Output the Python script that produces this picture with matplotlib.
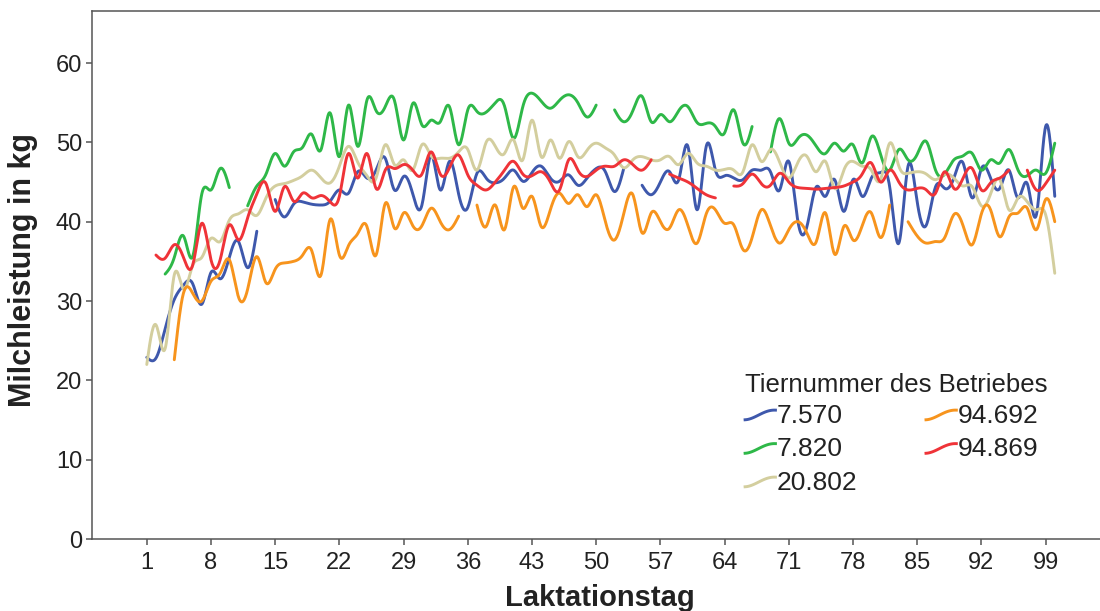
import numpy as np
import matplotlib
matplotlib.use("Agg")
import matplotlib.pyplot as plt
from matplotlib.legend_handler import HandlerBase
from matplotlib.lines import Line2D

nan = np.nan

# Laktationstag 1..100, Milchleistung (kg) per Tier, nan = kein Wert
days = list(range(1, 101))

kuh_7570 = [22.9, 22.8, 26.5, 30.2, 32.0, 32.2, 29.6, 33.6, 32.8, 35.5,
            37.5, 34.2, 38.8, nan, 42.8, 40.6, 42.2, 42.5, 42.2, 42.1,
            42.6, 44.0, 43.6, 46.3, 45.5, 46.5, 48.0, 44.0, 45.7, 43.5,
            42.1, 48.4, 44.0, 47.6, 43.5, 41.8, 46.1, 45.5, 44.9, 45.5,
            46.5, 45.1, 46.2, 47.0, 45.5, 45.1, 45.9, 44.6, 45.5, 46.7,
            46.3, 43.8, 46.7, nan, 44.6, 43.4, 45.0, 46.3, 45.3, 49.5,
            41.5, 49.5, 46.5, 45.8, 45.5, 45.3, 46.5, 46.5, 46.3, 44.0,
            47.6, 40.0, 39.5, 44.4, 43.2, 45.3, 41.3, 45.3, 43.2, 45.5,
            46.2, 44.4, 37.3, 47.0, 42.5, 39.6, 44.4, 44.2, 45.5, 47.4,
            43.0, 46.7, 45.5, 44.2, 46.5, 43.0, 44.8, 40.9, 52.0, 43.2]

kuh_7820 = [nan, nan, 33.4, 35.5, 38.2, 35.6, 43.5, 44.0, 46.7, 44.3,
            nan, 42.0, 44.5, 46.0, 48.6, 47.0, 48.8, 49.4, 51.0, 49.1,
            53.7, 48.2, 54.7, 49.5, 55.3, 54.0, 54.5, 55.3, 50.3, 54.9,
            52.2, 52.8, 52.6, 54.5, 49.7, 54.1, 53.9, 53.8, 55.0, 54.6,
            50.5, 54.5, 56.2, 55.2, 54.3, 55.3, 56.0, 55.0, 53.2, 54.7,
            nan, 54.1, 52.6, 54.0, 55.8, 52.6, 53.5, 52.6, 54.0, 54.5,
            52.5, 52.4, 52.0, 51.2, 54.1, 49.9, 52.0, nan, 48.8, 53.0,
            49.9, 50.5, 50.9, 49.5, 48.6, 49.9, 48.9, 49.7, 47.4, 50.7,
            48.5, 46.5, 49.1, 47.8, 48.5, 50.1, 46.5, 46.0, 47.8, 48.3,
            48.6, 46.5, 47.8, 47.4, 49.1, 46.5, 45.8, 46.5, 46.1, 49.9]

kuh_20802 = [22.0, 27.0, 24.0, 33.3, 31.5, 34.5, 35.5, 37.9, 37.5, 40.2,
             41.0, 41.5, 40.8, 43.0, 44.5, 44.8, 45.2, 45.8, 46.5, 45.5,
             44.9, 47.0, 49.5, 47.5, 45.8, 45.5, 49.7, 47.2, 47.8, 46.5,
             49.7, 48.3, 48.0, 48.0, 48.8, 49.1, 46.5, 50.0, 49.5, 48.6,
             50.3, 47.8, 52.8, 48.2, 50.3, 48.0, 50.1, 48.2, 49.0, 49.9,
             49.3, 48.4, 46.8, 47.8, 48.2, 47.8, 47.8, 48.2, 47.2, 48.6,
             47.4, 47.0, 46.5, 46.6, 46.5, 46.3, 49.7, 47.6, 49.1, 47.5,
             45.5, 47.5, 48.2, 46.3, 47.6, 44.2, 46.5, 47.6, 47.0, 46.5,
             45.3, 49.9, 47.0, 46.1, 46.3, 46.0, 45.3, 46.0, 45.5, 44.5,
             44.4, 42.0, 43.5, 45.3, 41.5, 43.0, 42.5, 41.5, 40.9, 33.5]

kuh_94692 = [nan, nan, nan, 22.6, 31.0, 31.0, 30.0, 32.5, 33.5, 35.2,
             30.5, 31.5, 35.6, 32.3, 34.0, 34.8, 35.0, 35.8, 36.3, 33.3,
             40.3, 35.8, 37.0, 38.5, 39.4, 35.8, 42.3, 39.2, 41.1, 39.5,
             39.5, 41.7, 40.0, 39.0, 40.7, nan, 42.1, 39.4, 42.1, 39.0,
             44.4, 41.7, 43.2, 39.4, 41.5, 43.6, 42.3, 43.4, 41.9, 43.4,
             40.0, 37.7, 41.0, 43.4, 38.6, 41.1, 40.0, 39.2, 41.5, 39.5,
             37.3, 41.0, 41.5, 39.8, 39.6, 36.5, 38.0, 41.5, 39.5, 37.3,
             39.0, 40.0, 38.5, 37.5, 41.1, 35.9, 39.4, 37.7, 39.5, 41.1,
             38.0, 42.1, nan, 40.0, 38.2, 37.3, 37.5, 38.0, 40.9, 39.5,
             37.1, 41.0, 41.5, 38.1, 40.6, 41.1, 41.7, 39.0, 42.8, 40.0]

kuh_94869 = [nan, 35.8, 35.4, 37.1, 35.5, 34.5, 39.8, 35.2, 35.2, 39.6,
             37.7, 40.5, 43.5, 44.8, 41.3, 44.4, 42.6, 43.6, 43.0, 43.3,
             42.5, 43.2, 48.6, 45.5, 48.6, 44.2, 46.5, 46.7, 47.2, 46.5,
             46.0, 48.8, 46.0, 46.8, 48.4, 45.9, 44.6, 44.0, 45.0, 46.5,
             47.6, 46.0, 45.8, 46.3, 45.0, 44.0, 47.8, 46.5, 45.7, 46.5,
             47.0, 47.0, 47.8, 47.2, 46.5, 47.8, nan, 46.0, 45.5, 45.0,
             44.2, 43.4, 43.0, nan, 44.5, 44.8, 46.0, 44.8, 44.6, 46.1,
             45.0, 44.3, 44.2, 44.1, 44.2, 44.3, 44.5, 45.0, 46.0, 47.4,
             45.0, 46.5, 45.0, 44.0, 44.2, 44.0, 43.6, 46.3, 44.2, 45.5,
             46.7, 44.0, 44.9, 45.5, 46.5, nan, 46.5, 44.0, 44.8, 46.5]

labels = ["7.570", "7.820", "20.802", "94.692", "94.869"]
series = [kuh_7570, kuh_7820, kuh_20802, kuh_94692, kuh_94869]
colors = ["#3E58AC", "#2EB848", "#D3CE9E", "#F7941D", "#EF3338"]

x_ticks = list(range(1, 100, 7))
y_ticks = list(range(0, 61, 10))


def natural_spline(x, y, n=16):
    """ natural cubic spline through the points of one segment """
    m = len(x)
    if m < 3:
        return x, y
    h = np.diff(x)
    A = np.zeros((m, m))
    r = np.zeros(m)
    A[0, 0] = A[-1, -1] = 1
    for i in range(1, m - 1):
        A[i, i - 1] = h[i - 1]
        A[i, i] = 2 * (h[i - 1] + h[i])
        A[i, i + 1] = h[i]
        r[i] = 3 * ((y[i + 1] - y[i]) / h[i] - (y[i] - y[i - 1]) / h[i - 1])
    c = np.linalg.solve(A, r)
    b = (y[1:] - y[:-1]) / h - h * (2 * c[:-1] + c[1:]) / 3
    d = (c[1:] - c[:-1]) / (3 * h)
    xs, ys = [], []
    for i in range(m - 1):
        t = np.linspace(0, h[i], n, endpoint=(i == m - 2))
        xs.append(x[i] + t)
        ys.append(y[i] + b[i] * t + c[i] * t ** 2 + d[i] * t ** 3)
    return np.concatenate(xs), np.concatenate(ys)


def segments(x, y):
    """ split a series at missing values """
    x = np.asarray(x, float)
    y = np.asarray(y, float)
    ok = ~np.isnan(y)
    start = None
    for i in range(len(y) + 1):
        if i < len(y) and ok[i]:
            if start is None:
                start = i
        elif start is not None:
            yield x[start:i], y[start:i]
            start = None


class WaveHandler(HandlerBase):
    def create_artists(self, legend, orig_handle, xdescent, ydescent,
                       width, height, fontsize, trans):
        t = np.linspace(0, 1, 40)
        xs = -xdescent + t * width
        ys = -ydescent + height * (0.45 - 0.3 * np.cos(np.pi * t) * np.exp(-0.3 * t))
        line = Line2D(xs, ys, color=orig_handle.get_color(),
                      linewidth=orig_handle.get_linewidth(), transform=trans)
        return [line]


plt.rcParams['font.family'] = ['Liberation Sans', 'DejaVu Sans']

fig = plt.figure(figsize=(11, 6.11), dpi=100)
ax = fig.add_axes([0.0834, 0.1178, 1.0 - 0.0834, 0.9825 - 0.1178])

handles = []
for vals, col, lab in zip(series, colors, labels):
    for sx, sy in segments(days, vals):
        px, py = natural_spline(sx, sy)
        ax.plot(px, py, color=col, linewidth=2.1, solid_capstyle='round')
    handles.append(Line2D([], [], color=col, linewidth=2.1, label=lab))

ax.set_xlim(-5, 104.93)
ax.set_ylim(0, 66.6)
ax.set_xticks(x_ticks)
ax.set_yticks(y_ticks)

spine_col = "#555555"
ax.spines['right'].set_visible(False)
for s in ['left', 'bottom', 'top']:
    ax.spines[s].set_color(spine_col)
    ax.spines[s].set_linewidth(1.1)
ax.tick_params(axis='both', length=4.5, width=1.1, color=spine_col,
               labelsize=17, labelcolor="#222222")
ax.tick_params(axis='x', pad=5)
ax.tick_params(axis='y', pad=2.5)

ax.set_xlabel("Laktationstag", fontsize=21, fontweight='bold', color="#222222")
ax.set_ylabel("Milchleistung in kg", fontsize=22, fontweight='bold', color="#222222")
ax.xaxis.set_label_coords(0.504, -0.086)
ax.yaxis.set_label_coords(-0.053, 0.51)

leg = ax.legend(handles=handles, labels=labels, ncol=2, frameon=False,
                title="Tiernummer des Betriebes", title_fontsize=18.5,
                fontsize=19, alignment='left',
                handler_map={Line2D: WaveHandler()},
                handlelength=1.15, handletextpad=0.05, columnspacing=2.6,
                labelspacing=0.36, borderpad=0, borderaxespad=0,
                loc='upper left', bbox_to_anchor=(0.648, 0.315))
for txt in leg.get_texts():
    txt.set_color("#222222")
leg.get_title().set_color("#222222")
leg._legend_box.sep = 5

fig.savefig("out.png", dpi=100)
